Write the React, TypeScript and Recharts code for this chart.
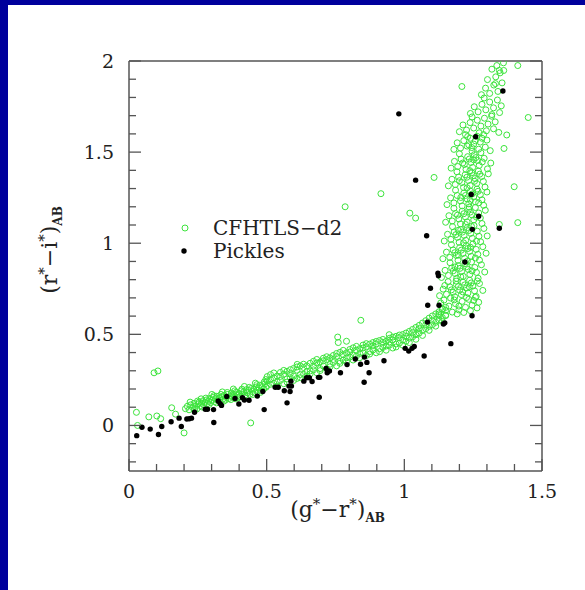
import { Legend, Scatter, ScatterChart, XAxis, YAxis } from 'recharts';

// g*-r* vs r*-i*, blue end of the CFHTLS-d2 stellar locus
const cfhtlsBlue: [number, number][] = [
  [0.205, 0.092], [0.212, 0.105], [0.218, 0.086], [0.224, 0.113], [0.231, 0.098], [0.236, 0.121], [0.240, 0.104], [0.246, 0.090],
  [0.251, 0.118], [0.255, 0.129], [0.259, 0.108], [0.263, 0.122], [0.268, 0.135], [0.272, 0.112], [0.276, 0.127], [0.281, 0.140],
  [0.284, 0.119], [0.289, 0.133], [0.293, 0.148], [0.297, 0.126], [0.302, 0.139], [0.306, 0.154], [0.311, 0.131], [0.315, 0.146],
  [0.319, 0.160], [0.323, 0.137], [0.328, 0.151], [0.332, 0.128], [0.337, 0.158], [0.341, 0.144], [0.346, 0.166], [0.350, 0.139],
  [0.354, 0.153], [0.359, 0.171], [0.363, 0.148], [0.368, 0.162], [0.372, 0.178], [0.377, 0.155], [0.381, 0.169], [0.386, 0.147],
  [0.390, 0.183], [0.394, 0.164], [0.399, 0.176], [0.403, 0.158], [0.408, 0.190], [0.412, 0.172], [0.417, 0.185], [0.421, 0.166],
  [0.426, 0.196], [0.430, 0.179], [0.435, 0.192], [0.439, 0.171], [0.444, 0.203], [0.448, 0.186], [0.453, 0.199], [0.457, 0.180],
  [0.462, 0.211], [0.466, 0.193], [0.471, 0.206], [0.475, 0.221], [0.480, 0.189], [0.484, 0.214], [0.489, 0.200], [0.493, 0.228],
  [0.498, 0.210],
  [0.222, 0.128], [0.238, 0.085], [0.249, 0.134], [0.266, 0.101], [0.279, 0.150], [0.291, 0.115], [0.308, 0.163], [0.318, 0.124],
  [0.334, 0.170], [0.344, 0.133], [0.357, 0.181], [0.370, 0.142], [0.384, 0.190], [0.396, 0.151], [0.410, 0.199], [0.423, 0.160],
  [0.437, 0.209], [0.450, 0.170], [0.464, 0.224], [0.477, 0.181], [0.491, 0.238],
  [0.262, 0.146], [0.301, 0.170], [0.339, 0.184], [0.379, 0.200], [0.419, 0.214], [0.459, 0.232], [0.497, 0.252],
];

// middle part of the locus, up to the knee near g-r = 1.15
const cfhtlsMid: [number, number][] = [
  [0.502, 0.268], [0.502, 0.219], [0.502, 0.244], [0.514, 0.226], [0.514, 0.279], [0.514, 0.252],
  [0.526, 0.231], [0.526, 0.262], [0.526, 0.288], [0.538, 0.240], [0.538, 0.271], [0.538, 0.215],
  [0.550, 0.291], [0.550, 0.247], [0.550, 0.269], [0.562, 0.229], [0.562, 0.281], [0.562, 0.302],
  [0.574, 0.255], [0.574, 0.297], [0.574, 0.238], [0.586, 0.306], [0.586, 0.262], [0.586, 0.284],
  [0.598, 0.247], [0.598, 0.313], [0.598, 0.271], [0.610, 0.303], [0.610, 0.258], [0.610, 0.321],
  [0.622, 0.279], [0.622, 0.327], [0.622, 0.262], [0.634, 0.318], [0.634, 0.281], [0.634, 0.336],
  [0.646, 0.270], [0.646, 0.327], [0.646, 0.296], [0.658, 0.341], [0.658, 0.299], [0.658, 0.283],
  [0.670, 0.305], [0.670, 0.352], [0.670, 0.326], [0.682, 0.289], [0.682, 0.343], [0.682, 0.362],
  [0.694, 0.348], [0.694, 0.312], [0.694, 0.301], [0.706, 0.369], [0.706, 0.326], [0.706, 0.355],
  [0.718, 0.311], [0.718, 0.361], [0.718, 0.377], [0.730, 0.336], [0.730, 0.371], [0.730, 0.322],
  [0.742, 0.384], [0.742, 0.345], [0.742, 0.362], [0.754, 0.327], [0.754, 0.379], [0.754, 0.395],
  [0.766, 0.352], [0.766, 0.401], [0.766, 0.341], [0.778, 0.389], [0.778, 0.359], [0.778, 0.412],
  [0.790, 0.350], [0.790, 0.398], [0.790, 0.371], [0.802, 0.417], [0.802, 0.375], [0.802, 0.403],
  [0.814, 0.359], [0.814, 0.426], [0.814, 0.386], [0.826, 0.413], [0.826, 0.381], [0.826, 0.434],
  [0.838, 0.372], [0.838, 0.421], [0.838, 0.395], [0.850, 0.441], [0.850, 0.398], [0.850, 0.425],
  [0.862, 0.384], [0.862, 0.432], [0.862, 0.449], [0.874, 0.405], [0.874, 0.446], [0.874, 0.392],
  [0.886, 0.455], [0.886, 0.414], [0.886, 0.437], [0.898, 0.399], [0.898, 0.448], [0.898, 0.461],
  [0.910, 0.421], [0.910, 0.466], [0.910, 0.405], [0.922, 0.456], [0.922, 0.428], [0.922, 0.472],
  [0.934, 0.413], [0.934, 0.462], [0.934, 0.436], [0.946, 0.478], [0.946, 0.441], [0.946, 0.458],
  [0.958, 0.425], [0.958, 0.470], [0.958, 0.485], [0.970, 0.447], [0.970, 0.489], [0.970, 0.431],
  [0.982, 0.482], [0.982, 0.452], [0.982, 0.496], [0.994, 0.441], [0.994, 0.499], [0.994, 0.468],
  [1.006, 0.507], [1.006, 0.462], [1.006, 0.488], [1.018, 0.455], [1.018, 0.516], [1.018, 0.479],
  [1.030, 0.527], [1.030, 0.486], [1.030, 0.509], [1.042, 0.473], [1.042, 0.538], [1.042, 0.498],
  [1.054, 0.549], [1.054, 0.507], [1.054, 0.531], [1.066, 0.494], [1.066, 0.562], [1.066, 0.521],
  [1.078, 0.575], [1.078, 0.531], [1.078, 0.553], [1.090, 0.522], [1.090, 0.589], [1.090, 0.544],
  [1.102, 0.601], [1.102, 0.553], [1.102, 0.577], [1.114, 0.545], [1.114, 0.612], [1.114, 0.566],
  [1.126, 0.624], [1.126, 0.578], [1.126, 0.603], [1.138, 0.571], [1.138, 0.637], [1.138, 0.592],
  [1.150, 0.648], [1.150, 0.603], [1.150, 0.631],
  [0.760, 0.455], [0.790, 0.462], [0.611, 0.335], [0.945, 0.498],
];

// red dwarf branch, nearly vertical
const cfhtlsRed: [number, number][] = [
  [1.125, 0.612], [1.138, 0.640], [1.150, 0.605], [1.162, 0.655], [1.174, 0.622], [1.186, 0.668], [1.198, 0.634], [1.210, 0.681],
  [1.222, 0.648], [1.234, 0.692], [1.246, 0.660], [1.258, 0.703], [1.270, 0.676], [1.144, 0.688], [1.168, 0.699], [1.192, 0.612],
  [1.216, 0.620], [1.240, 0.630], [1.264, 0.645], [1.132, 0.672],
  [1.128, 0.712], [1.141, 0.748], [1.153, 0.720], [1.165, 0.761], [1.177, 0.731], [1.189, 0.774], [1.201, 0.742], [1.213, 0.786],
  [1.225, 0.754], [1.237, 0.797], [1.249, 0.765], [1.261, 0.708], [1.273, 0.779], [1.285, 0.741], [1.159, 0.789], [1.183, 0.706],
  [1.207, 0.718], [1.231, 0.727], [1.255, 0.739], [1.196, 0.762], [1.219, 0.771], [1.171, 0.744], [1.243, 0.782], [1.147, 0.768],
  [1.135, 0.812], [1.148, 0.851], [1.160, 0.823], [1.172, 0.864], [1.184, 0.834], [1.196, 0.877], [1.208, 0.845], [1.220, 0.888],
  [1.232, 0.856], [1.244, 0.897], [1.256, 0.867], [1.268, 0.808], [1.280, 0.882], [1.292, 0.842], [1.166, 0.893], [1.190, 0.807],
  [1.214, 0.818], [1.238, 0.829], [1.262, 0.840], [1.202, 0.862], [1.226, 0.871], [1.178, 0.849],
  [1.140, 0.915], [1.153, 0.951], [1.165, 0.922], [1.177, 0.963], [1.189, 0.933], [1.201, 0.976], [1.213, 0.944], [1.225, 0.987],
  [1.237, 0.955], [1.249, 0.996], [1.261, 0.966], [1.273, 0.907], [1.285, 0.981], [1.171, 0.992], [1.195, 0.906], [1.219, 0.917],
  [1.243, 0.928], [1.267, 0.939], [1.207, 0.962], [1.231, 0.971], [1.183, 0.948], [1.297, 0.945],
  [1.145, 1.012], [1.157, 1.049], [1.169, 1.021], [1.181, 1.062], [1.193, 1.032], [1.205, 1.075], [1.217, 1.043], [1.229, 1.086],
  [1.241, 1.054], [1.253, 1.097], [1.265, 1.066], [1.277, 1.008], [1.289, 1.081], [1.175, 1.091], [1.199, 1.005], [1.223, 1.016],
  [1.247, 1.027], [1.271, 1.038], [1.211, 1.061], [1.235, 1.070], [1.187, 1.047], [1.301, 1.040],
  [1.150, 1.115], [1.162, 1.151], [1.174, 1.122], [1.186, 1.163], [1.198, 1.133], [1.210, 1.176], [1.222, 1.144], [1.234, 1.187],
  [1.246, 1.155], [1.258, 1.196], [1.270, 1.166], [1.282, 1.108], [1.294, 1.181], [1.180, 1.192], [1.204, 1.106], [1.228, 1.117],
  [1.252, 1.128], [1.276, 1.139], [1.216, 1.162], [1.240, 1.171],
  [1.155, 1.212], [1.168, 1.249], [1.180, 1.221], [1.192, 1.262], [1.204, 1.232], [1.216, 1.275], [1.228, 1.243], [1.240, 1.286],
  [1.252, 1.254], [1.264, 1.297], [1.276, 1.266], [1.288, 1.208], [1.300, 1.281], [1.186, 1.291], [1.210, 1.205], [1.234, 1.216],
  [1.258, 1.227], [1.282, 1.238], [1.222, 1.262], [1.246, 1.270],
  [1.160, 1.315], [1.173, 1.351], [1.185, 1.322], [1.197, 1.363], [1.209, 1.333], [1.221, 1.376], [1.233, 1.344], [1.245, 1.387],
  [1.257, 1.355], [1.269, 1.396], [1.281, 1.366], [1.293, 1.308], [1.305, 1.381], [1.191, 1.392], [1.215, 1.306], [1.239, 1.317],
  [1.263, 1.328], [1.287, 1.339], [1.227, 1.362], [1.251, 1.371],
  [1.170, 1.412], [1.182, 1.449], [1.194, 1.421], [1.206, 1.462], [1.218, 1.432], [1.230, 1.475], [1.242, 1.443], [1.254, 1.486],
  [1.266, 1.454], [1.278, 1.497], [1.290, 1.466], [1.302, 1.408], [1.200, 1.491], [1.224, 1.405], [1.248, 1.416], [1.272, 1.427],
  [1.236, 1.462], [1.260, 1.470], [1.314, 1.440],
  [1.180, 1.515], [1.192, 1.551], [1.204, 1.522], [1.216, 1.563], [1.228, 1.533], [1.240, 1.576], [1.252, 1.544], [1.264, 1.587],
  [1.276, 1.555], [1.288, 1.596], [1.300, 1.566], [1.312, 1.508], [1.222, 1.596], [1.246, 1.505], [1.270, 1.516], [1.294, 1.527],
  [1.258, 1.562], [1.234, 1.540],
  [1.200, 1.612], [1.213, 1.649], [1.226, 1.621], [1.239, 1.662], [1.252, 1.632], [1.265, 1.675], [1.278, 1.643], [1.291, 1.686],
  [1.304, 1.654], [1.317, 1.697], [1.330, 1.666], [1.343, 1.608], [1.246, 1.693], [1.272, 1.606], [1.298, 1.617], [1.324, 1.628],
  [1.240, 1.712], [1.254, 1.749], [1.268, 1.721], [1.282, 1.762], [1.296, 1.732], [1.310, 1.775], [1.324, 1.743], [1.338, 1.786],
  [1.352, 1.754], [1.290, 1.797], [1.318, 1.706], [1.346, 1.717],
  [1.280, 1.815], [1.295, 1.851], [1.310, 1.822], [1.325, 1.868], [1.340, 1.833], [1.355, 1.880], [1.302, 1.898], [1.332, 1.913],
  [1.348, 1.935], [1.318, 1.955], [1.336, 1.975], [1.360, 1.990],
  [1.198, 0.655], [1.226, 0.702], [1.181, 0.689], [1.252, 0.686], [1.212, 0.733], [1.236, 0.761], [1.188, 0.792], [1.265, 0.793],
  [1.205, 0.815], [1.246, 0.848], [1.184, 0.870], [1.229, 0.902], [1.258, 0.919], [1.196, 0.935], [1.240, 0.978], [1.215, 1.002],
  [1.262, 1.011], [1.196, 1.071], [1.244, 1.092], [1.222, 1.103], [1.262, 1.143], [1.193, 1.154], [1.236, 1.198], [1.270, 1.222],
  [1.205, 1.251], [1.240, 1.235], [1.268, 1.285], [1.228, 1.304], [1.200, 1.343], [1.255, 1.340], [1.274, 1.379], [1.238, 1.398],
  [1.212, 1.440], [1.283, 1.446], [1.252, 1.458], [1.245, 1.525], [1.282, 1.576], [1.230, 1.585],
];

const cfhtlsOutliers: [number, number][] = [
  [0.027, 0.072], [0.031, 0.0], [0.072, 0.047], [0.091, 0.289], [0.105, 0.299], [0.101, 0.052], [0.115, 0.037], [0.155, 0.097],
  [0.169, 0.062], [0.2, -0.041], [0.442, 0.014], [0.915, 1.272], [0.785, 1.2], [0.842, 0.577], [0.758, 0.485], [1.02, 1.165],
  [1.041, 1.138], [1.108, 1.361], [1.209, 1.86], [1.331, 1.876], [1.345, 1.948], [1.361, 1.948], [1.412, 1.975], [1.45, 1.69],
  [1.399, 1.31], [1.412, 1.113], [1.345, 1.103], [1.372, 1.594], [1.362, 1.52],
];

const pickles: [number, number][] = [
  [0.028, -0.056], [0.047, -0.01], [0.077, -0.02], [0.107, -0.05], [0.119, -0.006], [0.153, 0.02], [0.182, 0.04], [0.19, -0.006],
  [0.21, 0.035], [0.219, 0.037], [0.227, 0.04], [0.238, 0.072], [0.277, 0.089], [0.285, 0.089], [0.307, 0.087], [0.308, 0.016],
  [0.324, 0.134], [0.331, 0.12], [0.336, 0.11], [0.355, 0.159], [0.385, 0.148], [0.399, 0.118], [0.412, 0.152], [0.419, 0.14],
  [0.436, 0.138], [0.466, 0.161], [0.486, 0.186], [0.491, 0.087], [0.531, 0.21], [0.542, 0.21], [0.564, 0.19], [0.574, 0.124],
  [0.581, 0.216], [0.585, 0.186], [0.588, 0.243], [0.59, 0.216], [0.635, 0.243], [0.645, 0.262], [0.655, 0.262], [0.665, 0.241],
  [0.688, 0.264], [0.691, 0.155], [0.693, 0.264], [0.716, 0.313], [0.72, 0.289], [0.728, 0.299], [0.768, 0.289], [0.792, 0.334],
  [0.822, 0.365], [0.841, 0.336], [0.854, 0.237], [0.855, 0.375], [0.864, 0.346], [0.872, 0.289], [0.926, 0.355], [0.98, 1.71],
  [1.003, 0.423], [1.016, 0.408], [1.028, 0.423], [1.036, 0.433], [1.041, 1.346], [1.072, 0.381], [1.081, 1.041], [1.084, 0.567],
  [1.085, 0.66], [1.095, 0.753], [1.122, 0.835], [1.124, 0.821], [1.126, 0.66], [1.142, 0.557], [1.147, 0.563], [1.169, 0.449],
  [1.22, 0.897], [1.243, 1.268], [1.246, 0.602], [1.247, 1.076], [1.259, 1.584], [1.27, 1.148], [1.345, 1.082], [1.358, 1.835],
];

const xMajor = [0, 0.5, 1, 1.5];
const xMinor = [0.1, 0.2, 0.3, 0.4, 0.6, 0.7, 0.8, 0.9, 1.1, 1.2, 1.3, 1.4];
const yMajor = [0, 0.5, 1, 1.5, 2];
const yMinor = [-0.2, -0.1, 0.1, 0.2, 0.3, 0.4, 0.6, 0.7, 0.8, 0.9, 1.1, 1.2, 1.3, 1.4, 1.6, 1.7, 1.8, 1.9];

const xTicks = [...xMajor, ...xMinor].sort((a, b) => a - b);
const yTicks = [...yMajor, ...yMinor].sort((a, b) => a - b);

const FONT = '"DejaVu Serif", serif';
const FRAME = '#555';
const GREEN = '#3ce43c';

const toPoints = (rows: [number, number][]) => rows.map(([x, y]) => ({ x, y }));
const greenData = toPoints([...cfhtlsOutliers, ...cfhtlsBlue, ...cfhtlsMid, ...cfhtlsRed]);
const blackData = toPoints(pickles);

const OpenCircle = (props: any) => (
  <circle cx={props.cx} cy={props.cy} r={3} fill="none" stroke={GREEN} strokeWidth={1} />
);
const FilledDot = (props: any) => <circle cx={props.cx} cy={props.cy} r={2.7} fill="#000" />;

const tickLen = (v: number, majors: number[]) => (majors.includes(v) ? 12 : 7);

const BottomTick = (props: any) => {
  const { x, y, payload } = props;
  const v = payload.value;
  return (
    <g>
      <line x1={x} x2={x} y1={y} y2={y - tickLen(v, xMajor)} stroke={FRAME} strokeWidth={1.3} />
      {xMajor.includes(v) && (
        <text x={x} y={y + 27} textAnchor="middle" fontFamily={FONT} fontSize={19} fill="#222">
          {String(v)}
        </text>
      )}
    </g>
  );
};

const TopTick = (props: any) => {
  const { x, y, payload } = props;
  return <line x1={x} x2={x} y1={y} y2={y + tickLen(payload.value, xMajor)} stroke={FRAME} strokeWidth={1.3} />;
};

const LeftTick = (props: any) => {
  const { x, y, payload } = props;
  const v = payload.value;
  return (
    <g>
      <line x1={x} x2={x + tickLen(v, yMajor)} y1={y} y2={y} stroke={FRAME} strokeWidth={1.3} />
      {yMajor.includes(v) && (
        <text x={x - 15} y={y + 7} textAnchor="end" fontFamily={FONT} fontSize={19} fill="#222">
          {String(v)}
        </text>
      )}
    </g>
  );
};

const RightTick = (props: any) => {
  const { x, y, payload } = props;
  return <line x1={x} x2={x - tickLen(payload.value, yMajor)} y1={y} y2={y} stroke={FRAME} strokeWidth={1.3} />;
};

const XTitle = (props: any) => {
  const vb = props.viewBox;
  return (
    <text x={vb.x + vb.width / 2 + 2} y={vb.y + 46} textAnchor="middle" fontFamily={FONT} fontSize={22} fill="#222">
      (g<tspan dy={-8} fontSize={15}>*</tspan>
      <tspan dy={8}>−r</tspan>
      <tspan dy={-8} fontSize={15}>*</tspan>
      <tspan dy={8}>)</tspan>
      <tspan dy={5} fontSize={12} fontWeight="bold">AB</tspan>
    </text>
  );
};

const YTitle = (props: any) => {
  const vb = props.viewBox;
  const cx = vb.x + vb.width - 72;
  const cy = 250;
  return (
    <text x={cx} y={cy} transform={`rotate(-90, ${cx}, ${cy})`} textAnchor="middle" fontFamily={FONT} fontSize={22} fill="#222">
      (r<tspan dy={-8} fontSize={15}>*</tspan>
      <tspan dy={8}>−i</tspan>
      <tspan dy={-8} fontSize={15}>*</tspan>
      <tspan dy={8}>)</tspan>
      <tspan dy={5} fontSize={12} fontWeight="bold">AB</tspan>
    </text>
  );
};

const LegendBox = () => (
  <svg width={200} height={56} style={{ display: 'block' }}>
    <circle cx={10} cy={16} r={3} fill="none" stroke={GREEN} strokeWidth={1} />
    <text x={38} y={23} fontFamily={FONT} fontSize={20} fill="#222">CFHTLS−d2</text>
    <circle cx={9} cy={39} r={2.7} fill="#000" />
    <text x={38} y={46} fontFamily={FONT} fontSize={20} fill="#222">Pickles</text>
  </svg>
);

const App = () => {
  return (
    <div style={{ position: 'absolute', left: 0, top: 0, width: 585, height: 590, background: '#fff' }}>
      <div style={{ position: 'absolute', left: 0, top: 0, width: 8, height: 590, background: '#00009c' }} />
      <div style={{ position: 'absolute', left: 0, top: 0, width: 585, height: 5, background: '#00009c' }} />
      <div style={{ position: 'absolute', left: 0, top: 0 }}>
        <ScatterChart width={585} height={590} margin={{ top: 60, right: 42, bottom: 118, left: 128 }}>
          <XAxis
            xAxisId="b"
            type="number"
            dataKey="x"
            orientation="bottom"
            domain={[0, 1.5]}
            allowDataOverflow
            ticks={xTicks}
            interval={0}
            height={1}
            tickSize={0}
            tickMargin={0}
            tickLine={false}
            tick={<BottomTick />}
            axisLine={{ stroke: FRAME, strokeWidth: 1.5 }}
            label={{ content: XTitle }}
          />
          <XAxis
            xAxisId="t"
            type="number"
            orientation="top"
            domain={[0, 1.5]}
            allowDataOverflow
            ticks={xTicks}
            interval={0}
            height={1}
            tickSize={0}
            tickMargin={0}
            tickLine={false}
            tick={<TopTick />}
            axisLine={{ stroke: FRAME, strokeWidth: 1.5 }}
          />
          <YAxis
            yAxisId="l"
            type="number"
            dataKey="y"
            orientation="left"
            domain={[-0.25, 2]}
            allowDataOverflow
            ticks={yTicks}
            interval={0}
            width={1}
            tickSize={0}
            tickMargin={0}
            tickLine={false}
            tick={<LeftTick />}
            axisLine={{ stroke: FRAME, strokeWidth: 1.5 }}
            label={{ content: YTitle }}
          />
          <YAxis
            yAxisId="r"
            type="number"
            orientation="right"
            domain={[-0.25, 2]}
            allowDataOverflow
            ticks={yTicks}
            interval={0}
            width={1}
            tickSize={0}
            tickMargin={0}
            tickLine={false}
            tick={<RightTick />}
            axisLine={{ stroke: FRAME, strokeWidth: 1.5 }}
          />
          <Legend
            layout="vertical"
            align="center"
            verticalAlign="middle"
            content={LegendBox}
            wrapperStyle={{ position: 'absolute', left: 175, top: 212, width: 200 }}
          />
          <Scatter
            name="CFHTLS-d2"
            data={greenData}
            xAxisId="b"
            yAxisId="l"
            shape={OpenCircle}
            isAnimationActive={false}
          />
          <Scatter
            name="Pickles"
            data={blackData}
            xAxisId="b"
            yAxisId="l"
            shape={FilledDot}
            isAnimationActive={false}
          />
        </ScatterChart>
      </div>
    </div>
  );
};

export default App;
